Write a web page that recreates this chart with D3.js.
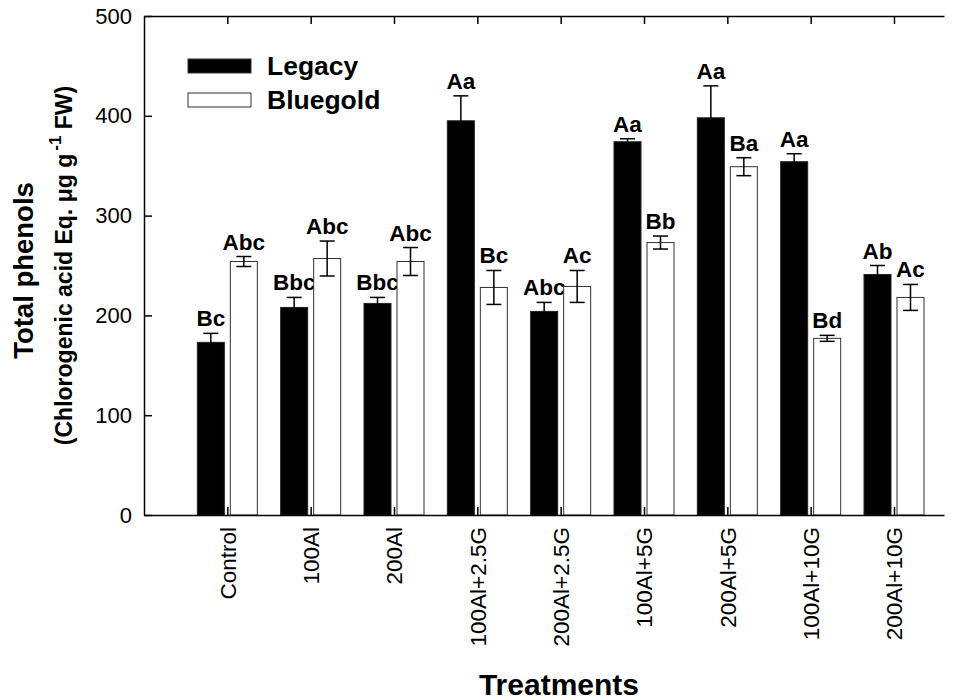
<!DOCTYPE html>
<html>
<head>
<meta charset="utf-8">
<script src="https://cdn.jsdelivr.net/npm/d3@7"></script>
<style>
  html, body { margin: 0; padding: 0; background: #fff; }
  svg { display: block; font-family: "Liberation Sans", Arial, sans-serif; }
</style>
</head>
<body>
<svg id="chart" width="963" height="700"></svg>
<script>
const categories = ["Control", "100Al", "200Al", "100Al+2.5G", "200Al+2.5G", "100Al+5G", "200Al+5G", "100Al+10G", "200Al+10G"];
const legacy = [173, 208, 212, 395, 204, 374, 398, 354, 241];
const legacyErr = [9, 10, 6, 25, 9, 3, 32, 8, 9];
const bluegold = [254, 257, 254, 228, 229, 273, 349, 177, 218];
const bluegoldErr = [5, 17.5, 14, 17, 16, 6.5, 9, 3, 13];
const legacyLabels = ["Bc", "Bbc", "Bbc", "Aa", "Abc", "Aa", "Aa", "Aa", "Ab"];
const bluegoldLabels = ["Abc", "Abc", "Abc", "Bc", "Ac", "Bb", "Ba", "Bd", "Ac"];
const yTicks = [0, 100, 200, 300, 400, 500];
const seriesNames = ["Legacy", "Bluegold"];

const svg = d3.select("#chart");
const pLeft = 144, pRight = 944, pTop = 16, pBottom = 515;

const x = d3.scaleLinear().domain([0, 9.6]).range([pLeft, pRight]);
const y = d3.scaleLinear().domain([0, 500]).range([pBottom, pTop]);
const pos = i => x(i + 1);

const barW = 27, off = 3;
const series = [
  { vals: legacy, errs: legacyErr, labels: legacyLabels, fill: "#000", stroke: "#222", dx: -(off + barW) },
  { vals: bluegold, errs: bluegoldErr, labels: bluegoldLabels, fill: "#fff", stroke: "#333", dx: off }
];

const g = svg.append("g");

series.forEach(s => {
  const grp = g.append("g");
  grp.selectAll("rect").data(s.vals).join("rect")
    .attr("x", (d, i) => pos(i) + s.dx)
    .attr("y", d => y(d))
    .attr("width", barW)
    .attr("height", d => y(0) - y(d))
    .attr("fill", s.fill)
    .attr("stroke", s.stroke)
    .attr("stroke-width", 1);
  const cx = i => pos(i) + s.dx + barW / 2;
  const eb = grp.selectAll("g.eb").data(s.vals).join("g").attr("class", "eb");
  eb.append("line")
    .attr("x1", (d, i) => cx(i)).attr("x2", (d, i) => cx(i))
    .attr("y1", (d, i) => y(d + s.errs[i])).attr("y2", (d, i) => y(d - s.errs[i]))
    .attr("stroke", "#000").attr("stroke-width", 1.5);
  eb.append("line")
    .attr("x1", (d, i) => cx(i) - 7.5).attr("x2", (d, i) => cx(i) + 7.5)
    .attr("y1", (d, i) => y(d + s.errs[i])).attr("y2", (d, i) => y(d + s.errs[i]))
    .attr("stroke", "#000").attr("stroke-width", 1.5);
  eb.append("line")
    .attr("x1", (d, i) => cx(i) - 7.5).attr("x2", (d, i) => cx(i) + 7.5)
    .attr("y1", (d, i) => y(d - s.errs[i])).attr("y2", (d, i) => y(d - s.errs[i]))
    .attr("stroke", "#000").attr("stroke-width", 1.5);
  grp.selectAll("text").data(s.vals).join("text")
    .attr("x", (d, i) => cx(i))
    .attr("y", (d, i) => y(d + s.errs[i]) - 7)
    .attr("text-anchor", "middle")
    .attr("font-weight", "bold")
    .attr("font-size", 22.5)
    .text((d, i) => s.labels[i]);
});

// Y axis
const yAxis = d3.axisLeft(y).tickValues(yTicks).tickSizeInner(-8).tickSizeOuter(0).tickPadding(12);
const ya = svg.append("g").attr("transform", `translate(${pLeft},0)`).call(yAxis);
ya.select(".domain").attr("stroke-width", 1.5);
ya.selectAll(".tick line").attr("stroke-width", 1.5);
ya.selectAll(".tick text").attr("font-size", 22).attr("font-family", "Liberation Sans, Arial, sans-serif").attr("fill", "#000");

// bottom axis
const xAxis = d3.axisBottom(x).tickValues(d3.range(1, categories.length + 1))
  .tickSizeInner(-8).tickSizeOuter(0).tickFormat((d) => categories[d - 1]);
const xa = svg.append("g").attr("transform", `translate(0,${pBottom})`).call(xAxis);
xa.select(".domain").attr("stroke-width", 1.5);
xa.selectAll(".tick line").attr("stroke-width", 1.5);
xa.selectAll(".tick text")
  .attr("font-size", 22.5).attr("font-family", "Liberation Sans, Arial, sans-serif").attr("fill", "#000")
  .attr("transform", "rotate(-90)")
  .attr("text-anchor", "end")
  .attr("x", -12).attr("y", 0).attr("dy", "0.35em");

// top axis
const xTopAxis = d3.axisTop(x).tickValues(d3.range(1, categories.length + 1))
  .tickSizeInner(-8).tickSizeOuter(0).tickFormat("");
const xt = svg.append("g").attr("transform", `translate(0,${pTop})`).call(xTopAxis);
xt.select(".domain").attr("stroke-width", 1.5);
xt.selectAll(".tick line").attr("stroke-width", 1.5);

// axis titles
svg.append("text")
  .attr("x", (pLeft + pRight) / 2 + 15).attr("y", 695)
  .attr("text-anchor", "middle").attr("font-weight", "bold").attr("font-size", 30)
  .text("Treatments");

svg.append("text")
  .attr("transform", `translate(33,${(pTop + pBottom) / 2 + 5}) rotate(-90)`)
  .attr("text-anchor", "middle").attr("font-weight", "bold").attr("font-size", 27.5)
  .text("Total phenols");

const t2 = svg.append("text")
  .attr("transform", `translate(72,${(pTop + pBottom) / 2}) rotate(-90)`)
  .attr("text-anchor", "middle").attr("font-weight", "bold").attr("font-size", 23);
t2.append("tspan").text("(Chlorogenic acid Eq. μg g");
t2.append("tspan").attr("dy", -11).attr("font-size", 17).attr("dx", 3).text("-1");
t2.append("tspan").attr("dy", 11).text(" FW)");

// legend
const lg = svg.append("g");
const legendFills = ["#000", "#fff"];
const legendY = [59, 93];
seriesNames.forEach((n, i) => {
  lg.append("rect").attr("x", 188).attr("y", legendY[i]).attr("width", 63).attr("height", 14)
    .attr("fill", legendFills[i]).attr("stroke", "#333").attr("stroke-width", 1);
  lg.append("text").attr("x", 267).attr("y", legendY[i] + 16)
    .attr("font-weight", "bold").attr("font-size", 26.5).text(n);
});
</script>
</body>
</html>
